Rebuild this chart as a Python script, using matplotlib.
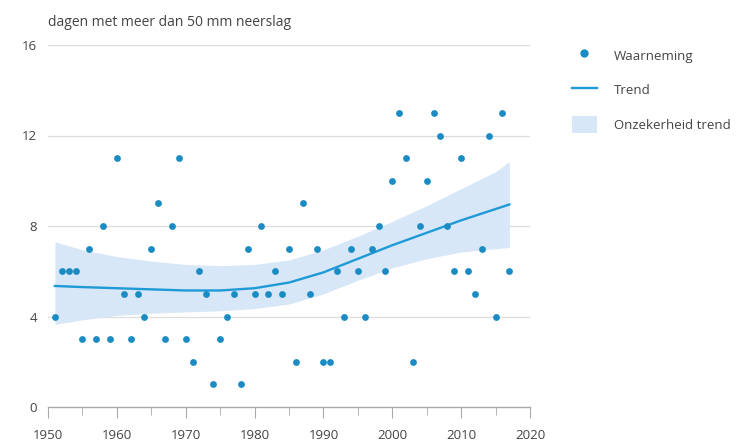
import numpy as np
import matplotlib.pyplot as plt
from matplotlib.lines import Line2D
from matplotlib.patches import Patch

plt.rcParams['font.family'] = ['Open Sans', 'DejaVu Sans']

# observed days with more than 50 mm precipitation
years = list(range(1951, 2018))
days = [4, 6, 6, 6, 3, 7, 3, 8, 3, 11,
        5, 3, 5, 4, 7, 9, 3, 8, 11, 3,
        2, 6, 5, 1, 3, 4, 5, 1, 7, 5,
        8, 5, 6, 5, 7, 2, 9, 5, 7, 2,
        2, 6, 4, 7, 6, 4, 7, 8, 6, 10,
        13, 11, 2, 8, 10, 13, 12, 8, 6, 11,
        6, 5, 7, 12, 4, 13, 6]

# trend with uncertainty band
trend_years = [1951, 1955, 1960, 1965, 1970, 1975, 1980, 1985,
               1990, 1995, 2000, 2005, 2010, 2015, 2017]
trend = [5.35, 5.3, 5.25, 5.2, 5.15, 5.15, 5.25, 5.5,
         5.95, 6.55, 7.15, 7.7, 8.25, 8.75, 8.95]
band_upper = [7.3, 6.95, 6.65, 6.45, 6.3, 6.25, 6.3, 6.5,
              6.95, 7.55, 8.2, 8.9, 9.65, 10.4, 10.85]
band_lower = [3.65, 3.85, 4.05, 4.15, 4.2, 4.25, 4.35, 4.55,
              5.0, 5.6, 6.15, 6.55, 6.85, 7.0, 7.05]

DOT = '#1b8cc3'
LINE = '#1f9ad6'
BAND = '#d8e7f8'
TEXT = '#444444'

fig = plt.figure(figsize=(7.56, 4.47), dpi=100)
ax = fig.add_axes([48 / 756, 40 / 447, (530 - 48) / 756, (407 - 45) / 447])

ax.fill_between(trend_years, band_lower, band_upper, color=BAND, lw=0, zorder=1)
ax.plot(trend_years, trend, color=LINE, lw=1.7, zorder=2)
ax.scatter(years, days, s=24, color=DOT, zorder=3, linewidths=0)

ax.set_xlim(1950, 2020)
ax.set_ylim(0, 16)
ax.set_yticks([0, 4, 8, 12, 16])
ax.set_xticks(range(1950, 2021, 10))
ax.set_xticks(range(1955, 2020, 10), minor=True)
ax.grid(axis='y', color='#dddddd', lw=0.9)
ax.set_axisbelow(True)
for s in ['top', 'right', 'left']:
    ax.spines[s].set_visible(False)
ax.spines['bottom'].set_color('#aaaaaa')
ax.spines['bottom'].set_linewidth(1.0)
ax.tick_params(axis='y', length=0, pad=8, labelsize=9.5, labelcolor=TEXT)
ax.tick_params(axis='x', which='both', direction='out', color='#aaaaaa',
               labelsize=9.5, labelcolor=TEXT, pad=8)
ax.tick_params(axis='x', which='major', length=8)
ax.tick_params(axis='x', which='minor', length=6)

fig.text(48 / 756, 1 - 22 / 447, 'dagen met meer dan 50 mm neerslag',
         fontsize=10, color=TEXT, va='center', ha='left')

handles = [
    Line2D([], [], marker='o', ls='none', color=DOT, markersize=5),
    Line2D([], [], color=LINE, lw=1.7),
    Patch(facecolor=BAND, edgecolor='none'),
]
labels = ['Waarneming', 'Trend', 'Onzekerheid trend']
fig.legend(handles, labels, loc='upper left',
           bbox_to_anchor=(560 / 756, 1 - 35 / 447), frameon=False,
           fontsize=9.5, labelcolor=TEXT, labelspacing=1.35,
           handlelength=1.9, handleheight=1.6, handletextpad=1.3)

fig.savefig('out.png', dpi=100)
